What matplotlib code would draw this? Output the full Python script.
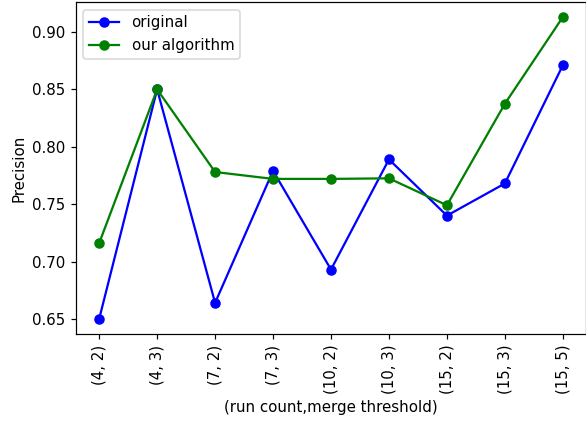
import matplotlib
matplotlib.use("Agg")
import matplotlib.pyplot as plt

settings = ["(4, 2)", "(4, 3)", "(7, 2)", "(7, 3)", "(10, 2)",
            "(10, 3)", "(15, 2)", "(15, 3)", "(15, 5)"]
original = [0.650, 0.850, 0.664, 0.779, 0.693, 0.789, 0.740, 0.768, 0.871]
ours = [0.716, 0.850, 0.778, 0.772, 0.772, 0.7725, 0.749, 0.8375, 0.913]

dpi = 108
fig = plt.figure(figsize=(586 / dpi, 422 / dpi), dpi=dpi)
ax = fig.add_axes([76 / 586, 1 - 334 / 422, 510 / 586, 332 / 422])

x = range(len(settings))
ax.plot(x, original, "bo-", label="original")
ax.plot(x, ours, "go-", label="our algorithm")

ax.set_xticks(list(x))
ax.set_xticklabels(settings, rotation=90)
ax.set_yticks([0.65, 0.70, 0.75, 0.80, 0.85, 0.90])
ax.set_ylabel("Precision")
ax.set_xlabel("(run count,merge threshold)")
ax.legend(loc="upper left")

fig.savefig("out.png", dpi=dpi)
